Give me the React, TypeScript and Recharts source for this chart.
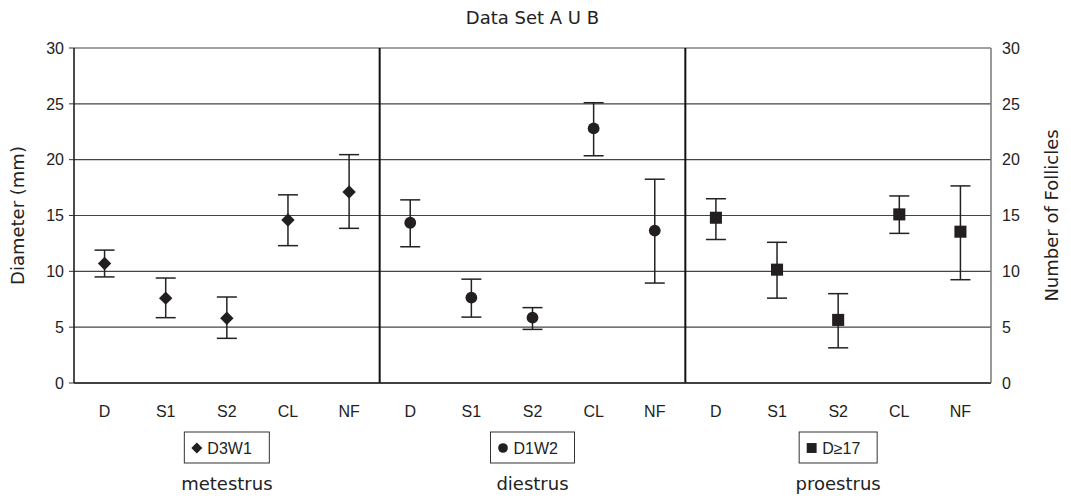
import React from "react";
import {
  CartesianGrid,
  ErrorBar,
  ReferenceLine,
  Scatter,
  ScatterChart,
  XAxis,
  YAxis,
} from "recharts";

const categories = ["D", "S1", "S2", "CL", "NF"];
const groupNames = ["metestrus", "diestrus", "proestrus"];
const seriesNames = ["D3W1", "D1W2", "D\u226517"];

// mean, lower and upper end of each error bar (mm)
const metestrusMean = [10.7, 7.6, 5.8, 14.6, 17.1];
const metestrusLow = [9.5, 5.85, 4.0, 12.3, 13.85];
const metestrusHigh = [11.9, 9.4, 7.7, 16.85, 20.45];

const diestrusMean = [14.35, 7.65, 5.85, 22.8, 13.65];
const diestrusLow = [12.2, 5.9, 4.8, 20.35, 8.95];
const diestrusHigh = [16.4, 9.3, 6.75, 25.1, 18.25];

const proestrusMean = [14.8, 10.15, 5.65, 15.1, 13.55];
const proestrusLow = [12.85, 7.6, 3.15, 13.4, 9.25];
const proestrusHigh = [16.5, 12.6, 8.0, 16.75, 17.65];

const yTicks = [0, 5, 10, 15, 20, 25, 30];

const INK = "#231f20";
const GOTHIC = "'DejaVu Sans', sans-serif";
const ARIAL = "'Liberation Sans', Arial, sans-serif";

function build(group: number, mean: number[], low: number[], high: number[]) {
  return mean.map((m, i) => ({
    x: group * 5 + i + 0.5,
    y: m,
    err: [m - low[i], high[i] - m],
  }));
}

const groups = [
  build(0, metestrusMean, metestrusLow, metestrusHigh),
  build(1, diestrusMean, diestrusLow, diestrusHigh),
  build(2, proestrusMean, proestrusLow, proestrusHigh),
];

const allCats = groupNames.flatMap(() => categories);
const centerTicks = allCats.map((_, i) => i + 0.5);
const boundaryTicks = Array.from({ length: allCats.length + 1 }, (_, i) => i);

function Marker({ kind, cx, cy, r }: { kind: number; cx: number; cy: number; r: number }) {
  if (kind === 0) {
    return (
      <polygon
        points={`${cx},${cy - r} ${cx + r},${cy} ${cx},${cy + r} ${cx - r},${cy}`}
        fill={INK}
      />
    );
  }
  if (kind === 1) return <circle cx={cx} cy={cy} r={r * 0.88} fill={INK} />;
  const s = r * 0.9;
  return <rect x={cx - s} y={cy - s} width={s * 2} height={s * 2} fill={INK} />;
}

const boxWidths = [85, 84, 78];

function CategoryTick(props: any) {
  const { x, y, payload } = props;
  const idx = Math.round(payload.value - 0.5);
  const g = Math.floor(idx / 5);
  const isCenter = idx % 5 === 2;
  const bw = boxWidths[g];
  const left = x - bw / 2;
  return (
    <g>
      <text x={x} y={y + 33} textAnchor="middle" fontFamily={ARIAL} fontSize={16} fill="#222">
        {allCats[idx]}
      </text>
      {isCenter && (
        <g>
          <rect x={left} y={y + 48} width={bw} height={31} fill="#fff" stroke="#333" strokeWidth={1} />
          <Marker kind={g} cx={left + 12.5} cy={y + 64} r={5.5} />
          <text x={left + 23} y={y + 70} fontFamily={ARIAL} fontSize={16} fill="#222">
            {seriesNames[g]}
          </text>
          <text x={x} y={y + 106} textAnchor="middle" fontFamily={GOTHIC} fontSize={18} fill="#222">
            {groupNames[g]}
          </text>
        </g>
      )}
    </g>
  );
}

export default function App() {
  return (
    <div style={{ position: "absolute", left: 0, top: 0, width: 1071, height: 501, background: "#fff" }}>
      <div
        style={{
          position: "absolute",
          left: 74,
          width: 917,
          top: 6,
          textAlign: "center",
          fontFamily: GOTHIC,
          fontSize: 18,
          color: "#222",
          lineHeight: "24px",
        }}
      >
        Data Set A U B
      </div>
      <ScatterChart width={1071} height={501} margin={{ top: 48, right: 0, bottom: 0, left: 0 }}>
        <CartesianGrid
          vertical={false}
          xAxisId="b"
          yAxisId="left"
          stroke="#444"
          strokeWidth={1.2}
        />
        <XAxis
          xAxisId="b"
          type="number"
          dataKey="x"
          domain={[0, 15]}
          ticks={centerTicks}
          interval={0}
          tick={<CategoryTick />}
          tickSize={0}
          tickMargin={0}
          height={117}
          axisLine={false}
          tickLine={false}
        />
        <XAxis
          xAxisId="a"
          type="number"
          dataKey="x"
          domain={[0, 15]}
          ticks={boundaryTicks}
          interval={0}
          tick={false}
          tickSize={5}
          height={1}
          axisLine={{ stroke: "#222", strokeWidth: 1.5 }}
          tickLine={{ stroke: "#222", strokeWidth: 1.2 }}
        />
        <YAxis
          yAxisId="left"
          type="number"
          domain={[0, 30]}
          ticks={yTicks}
          width={74}
          tickSize={5}
          tickMargin={5}
          tick={{ fill: "#222", fontSize: 16, fontFamily: ARIAL }}
          axisLine={{ stroke: "#111", strokeWidth: 1.5 }}
          tickLine={{ stroke: "#333" }}
          label={{
            value: "Diameter (mm)",
            angle: -90,
            position: "insideLeft",
            offset: 18,
            style: { textAnchor: "middle", fontFamily: GOTHIC, fontSize: 18, fill: "#222" },
          }}
        />
        <YAxis
          yAxisId="right"
          orientation="right"
          type="number"
          domain={[0, 30]}
          ticks={yTicks}
          width={80}
          tickSize={6}
          tickMargin={5}
          tick={{ fill: "#222", fontSize: 16, fontFamily: ARIAL }}
          axisLine={{ stroke: "#777", strokeWidth: 1.5 }}
          tickLine={false}
          label={{
            value: "Number of Follicles",
            angle: -90,
            position: "insideRight",
            offset: 19,
            style: { textAnchor: "middle", fontFamily: GOTHIC, fontSize: 18, fill: "#222" },
          }}
        />
        <ReferenceLine x={5} xAxisId="b" yAxisId="left" stroke="#111" strokeWidth={2} />
        <ReferenceLine x={10} xAxisId="b" yAxisId="left" stroke="#111" strokeWidth={2} />
        {/* invisible series so the right axis gets its ticks */}
        <Scatter
          data={groups[0]}
          xAxisId="a"
          yAxisId="right"
          dataKey="y"
          isAnimationActive={false}
          shape={() => <g />}
        />
        {groups.map((data, g) => (
          <Scatter
            key={g}
            name={seriesNames[g]}
            data={data}
            xAxisId="b"
            yAxisId="left"
            dataKey="y"
            isAnimationActive={false}
            shape={(p: any) => <Marker kind={g} cx={p.cx} cy={p.cy} r={6.7} />}
          >
            <ErrorBar
              dataKey="err"
              direction="y"
              width={10}
              stroke="#222"
              strokeWidth={1.5}
              isAnimationActive={false}
            />
          </Scatter>
        ))}
      </ScatterChart>
    </div>
  );
}
